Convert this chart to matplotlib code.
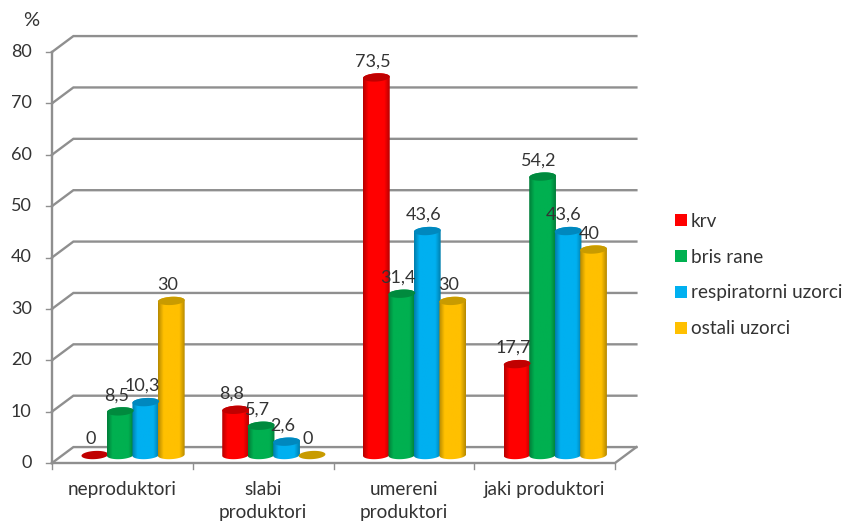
import numpy as np
import matplotlib
matplotlib.use("Agg")
import matplotlib.pyplot as plt
from matplotlib.patches import Polygon, Patch
from matplotlib.colors import to_rgb

plt.rcParams['font.family'] = ['Lato', 'DejaVu Sans']

categories = ["neproduktori", "slabi\nproduktori", "umereni\nproduktori", "jaki produktori"]
series = ["krv", "bris rane", "respiratorni uzorci", "ostali uzorci"]
krv = [0, 8.8, 73.5, 17.7]
bris = [8.5, 5.7, 31.4, 54.2]
resp = [10.3, 2.6, 43.6, 43.6]
ostali = [30, 0, 30, 40]
value_labels = [
    ["0", "8,8", "73,5", "17,7"],
    ["8,5", "5,7", "31,4", "54,2"],
    ["10,3", "2,6", "43,6", "43,6"],
    ["30", "0", "30", "40"],
]
y_ticks = [0, 10, 20, 30, 40, 50, 60, 70, 80]
colors = ["#FF0000", "#00B050", "#00B0F0", "#FFC000"]
top_colors = ["#C00000", "#008A3E", "#0088BE", "#C89B00"]

TEXT = "#333333"
GRID = "#8F8F8F"
DEPTH_X = 0.152
DEPTH_Y = 3.1
BAR_STEP = 0.181
BAR_W = 0.19
ELL_H = 0.8
TILT = 1.5

fig = plt.figure(figsize=(8.43, 5.24), dpi=100)
ax = fig.add_axes([52 / 843, (524 - 463) / 524, 563 / 843, 411 / 524])
ax.axis("off")


def ellipse_xy(cx, cy, t):
    x = cx + BAR_W / 2 * np.cos(t)
    y = cy + ELL_H * np.sin(t) + TILT * (x - cx)
    return x, y


def draw_cylinder(cx, base, value, color, top_color):
    t = np.linspace(0, 2 * np.pi, 60)
    tx, ty = ellipse_xy(cx, base + value, t)
    if value == 0:
        ax.add_patch(Polygon(np.c_[tx, ty], fc=top_color, ec="none", clip_on=False, zorder=3))
        return
    low = np.linspace(np.pi, 2 * np.pi, 30)
    bx, by = ellipse_xy(cx, base, low)
    ux, uy = ellipse_xy(cx, base + value, np.linspace(0, np.pi, 30))
    body = Polygon(np.c_[np.r_[bx, ux], np.r_[by, uy]], fc="none", ec="none",
                   transform=ax.transData)
    ax.add_patch(body)
    c = np.array(to_rgb(color))
    shade = np.interp(np.linspace(0, 1, 40), [0, 0.2, 0.8, 1], [0.72, 1, 1, 0.72])
    grad = (c * shade[:, None])[None, :, :]
    im = ax.imshow(grad, extent=[cx - BAR_W / 2, cx + BAR_W / 2, base - 2, base + value + 2],
                   aspect="auto", interpolation="bilinear", zorder=3)
    im.set_clip_path(body)
    ax.add_patch(Polygon(np.c_[tx, ty], fc=top_color, ec="none", clip_on=False, zorder=3.1))


# back wall and floor
for v in y_ticks:
    ax.plot([0, DEPTH_X, 4 + DEPTH_X], [v, v + DEPTH_Y, v + DEPTH_Y], color=GRID, lw=1.7,
            clip_on=False, zorder=1, solid_joinstyle="miter")
    ax.plot([-0.04, 0], [v, v], color=GRID, lw=1, clip_on=False, zorder=1)
    ax.text(-0.145, v, str(v), ha="right", va="center", fontsize=13, color=TEXT)
ax.plot([0, 0], [0, 80], color=GRID, lw=1.7, clip_on=False, zorder=2)
ax.plot([0, 4, 4 + DEPTH_X], [0, 0, DEPTH_Y], color=GRID, lw=1.7, clip_on=False, zorder=2)
for i in range(5):
    ax.plot([i, i], [0, -1.2], color=GRID, lw=1, clip_on=False, zorder=2)

ax.text(-0.15, 86.2, "%", ha="center", va="center", fontsize=14.5, color=TEXT)

for i, name in enumerate(categories):
    ax.text(i + 0.5, -3.5, name, ha="center", va="top", fontsize=13.7, color=TEXT,
            linespacing=1.45)

all_values = [krv, bris, resp, ostali]
for j, vals in enumerate(all_values):
    for i, v in enumerate(vals):
        cx = i + 0.5 + DEPTH_X / 2 + (j - 1.5) * BAR_STEP
        draw_cylinder(cx, DEPTH_Y / 2, v, colors[j], top_colors[j])
        ax.annotate(value_labels[j][i], (cx, DEPTH_Y / 2 + v), xytext=(-4, 16),
                    textcoords="offset pixels", ha="center", va="center",
                    fontsize=13, color=TEXT, zorder=5, annotation_clip=False)

ax.set_xlim(0, 4)
ax.set_ylim(0, 80)

handles = [Patch(fc=c, ec="none") for c in colors]
fig.legend(handles, series, loc="center left", bbox_to_anchor=(675 / 843, 1 - 275 / 524),
           frameon=False, fontsize=13.6, labelcolor=TEXT, handlelength=0.63, handleheight=0.63,
           handletextpad=0.22, labelspacing=1.0, borderpad=0, borderaxespad=0)

fig.savefig("out.png", dpi=100)
